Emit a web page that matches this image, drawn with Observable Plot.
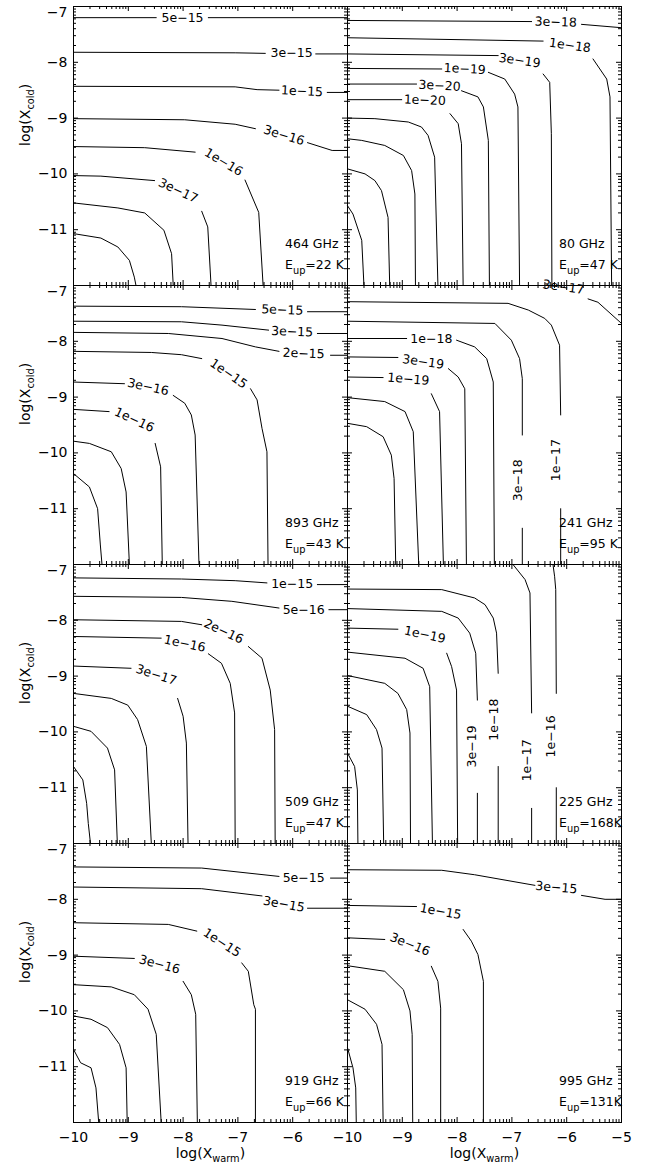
<!DOCTYPE html>
<html><head><meta charset="utf-8">
<script src="https://cdn.jsdelivr.net/npm/d3@7"></script>
<script src="https://cdn.jsdelivr.net/npm/@observablehq/plot@0.6"></script>
<style>body{margin:0;background:#fff}</style>
</head><body><div id="chart"></div>
<script>
const B = null; // break in a contour line (gap for its label)

// panel order: row-major, left column first
const freqs = ["464 GHz","80 GHz","893 GHz","241 GHz","509 GHz","225 GHz","919 GHz","995 GHz"];
const eups  = ["E_{up}=22 K","E_{up}=47 K","E_{up}=43 K","E_{up}=95 K","E_{up}=47 K","E_{up}=168K","E_{up}=66 K","E_{up}=131K"];
const panelCol = [0,1,0,1,0,1,0,1];
const panelRow = [0,0,1,1,2,2,3,3];

// contour lines, [log Xwarm, log Xcold]
const lines464 = [
  [[-10,-7.20],[-8.49,-7.20],B,[-7.54,-7.20],[-5,-7.20]],
  [[-10,-7.82],[-7.05,-7.83],[-6.50,-7.84],B,[-5.58,-7.85],[-5,-7.85]],
  [[-10,-8.43],[-7.05,-8.44],[-6.65,-8.49],[-6.25,-8.50],B,[-5.37,-8.54],[-5,-8.54]],
  [[-10,-9.01],[-7.97,-9.03],[-7.05,-9.11],[-6.68,-9.19],B,[-5.73,-9.44],[-5.28,-9.58],[-5,-9.58]],
  [[-10,-9.51],[-8.70,-9.53],[-7.78,-9.61],B,[-6.87,-10.11],[-6.62,-10.69],[-6.54,-12]],
  [[-10,-10.03],[-9.50,-10.04],[-8.52,-10.12],B,[-7.66,-10.67],[-7.55,-10.95],[-7.49,-12]],
  [[-10,-10.52],[-9.19,-10.61],[-8.70,-10.70],[-8.35,-11.01],[-8.21,-11.43],[-8.18,-12]],
  [[-10,-11.07],[-9.50,-11.15],[-9.19,-11.31],[-8.98,-11.55],[-8.89,-11.85],[-8.86,-12]]
];
const lines80 = [
  [[-10,-7.25],[-6.64,-7.27],B,[-5.73,-7.32],[-5,-7.38]],
  [[-10,-7.56],[-6.43,-7.62],B,[-5.52,-7.94],[-5.27,-8.30],[-5.21,-8.62],[-5.18,-12]],
  [[-10,-7.85],[-7.25,-7.88],B,[-6.43,-8.21],[-6.31,-8.36],[-6.28,-9.28],[-6.27,-12]],
  [[-10,-8.11],[-8.28,-8.12],B,[-7.43,-8.18],[-7.13,-8.30],[-6.95,-8.57],[-6.89,-8.80],[-6.86,-12]],
  [[-10,-8.39],[-8.74,-8.39],B,[-7.92,-8.51],[-7.62,-8.62],[-7.52,-8.80],[-7.43,-9.40],[-7.41,-12]],
  [[-10,-8.67],[-9.01,-8.67],B,[-8.13,-8.92],[-7.98,-9.10],[-7.92,-9.46],[-7.89,-12]],
  [[-10,-9.00],[-9.50,-9.01],[-8.89,-9.07],[-8.65,-9.16],[-8.53,-9.31],[-8.41,-9.70],[-8.35,-12]],
  [[-10,-9.37],[-9.74,-9.40],[-9.32,-9.49],[-8.98,-9.67],[-8.83,-9.94],[-8.77,-10.36],[-8.76,-12]],
  [[-10,-9.91],[-9.68,-10.00],[-9.50,-10.12],[-9.38,-10.30],[-9.26,-10.78],[-9.23,-12]],
  [[-10,-10.57],[-9.90,-10.72],[-9.74,-11.19],[-9.70,-12]]
];
const lines893 = [
  [[-10,-7.37],[-8.03,-7.38],[-6.68,-7.43],B,[-5.73,-7.47],[-5,-7.47]],
  [[-10,-7.64],[-8.03,-7.65],[-7.29,-7.71],[-6.44,-7.80],B,[-5.55,-7.86],[-5,-7.86]],
  [[-10,-7.84],[-8.27,-7.86],[-7.29,-7.95],[-6.68,-8.10],[-6.25,-8.18],B,[-5.31,-8.25],[-5,-8.25]],
  [[-10,-8.18],[-8.58,-8.20],[-8.03,-8.24],[-7.66,-8.31],B,[-6.77,-8.85],[-6.65,-9.05],[-6.56,-9.56],[-6.47,-9.98],[-6.45,-12]],
  [[-10,-8.73],[-9.07,-8.76],B,[-8.18,-8.97],[-7.97,-9.11],[-7.85,-9.32],[-7.78,-9.68],[-7.71,-12]],
  [[-10,-9.22],[-9.35,-9.26],B,[-8.51,-9.83],[-8.41,-10.25],[-8.38,-12]],
  [[-10,-9.79],[-9.71,-9.83],[-9.31,-9.98],[-9.13,-10.28],[-9.04,-10.70],[-8.98,-12]],
  [[-10,-10.37],[-9.71,-10.61],[-9.56,-11.00],[-9.51,-11.65],[-9.48,-12]]
];
const lines241 = [
  [[-6.72,-7.00],[-6.46,-7.00],B,[-5.61,-7.24],[-5.43,-7.30],[-5,-7.68]],
  [[-10,-7.29],[-7.07,-7.32],[-6.70,-7.44],[-6.40,-7.59],[-6.28,-7.71],[-6.13,-8.07],[-6.11,-9.32],B,[-6.11,-11.00],[-6.11,-12]],
  [[-10,-7.64],[-7.31,-7.68],[-7.01,-7.98],[-6.86,-8.31],[-6.81,-8.67],[-6.81,-9.68],B,[-6.81,-11.35],[-6.81,-12]],
  [[-10,-7.95],[-8.92,-7.95],B,[-8.01,-7.98],[-7.68,-8.10],[-7.46,-8.31],[-7.34,-8.73],[-7.32,-12]],
  [[-10,-8.28],[-9.08,-8.29],B,[-8.16,-8.49],[-7.98,-8.64],[-7.86,-8.85],[-7.83,-12]],
  [[-10,-8.64],[-9.35,-8.65],B,[-8.47,-8.94],[-8.32,-9.26],[-8.25,-12]],
  [[-10,-9.01],[-9.32,-9.08],[-8.95,-9.26],[-8.80,-9.62],[-8.70,-12]],
  [[-10,-9.47],[-9.65,-9.53],[-9.35,-9.71],[-9.20,-10.04],[-9.15,-10.46],[-9.12,-12]]
];
const lines509 = [
  [[-10,-7.24],[-8.03,-7.26],[-7.05,-7.29],[-6.47,-7.33],B,[-5.55,-7.36],[-5,-7.36]],
  [[-10,-7.57],[-8.03,-7.59],[-7.11,-7.66],[-6.25,-7.78],B,[-5.34,-7.81],[-5,-7.81]],
  [[-10,-7.99],[-8.03,-8.02],[-7.66,-8.08],B,[-6.81,-8.47],[-6.56,-8.68],[-6.41,-9.25],[-6.33,-9.96],[-6.32,-12]],
  [[-10,-8.29],[-8.40,-8.32],B,[-7.54,-8.60],[-7.30,-8.77],[-7.14,-9.13],[-7.06,-9.66],[-7.05,-12]],
  [[-10,-8.82],[-8.95,-8.86],B,[-8.10,-9.40],[-8.00,-9.72],[-7.94,-10.20],[-7.91,-12]],
  [[-10,-9.31],[-9.31,-9.40],[-9.01,-9.52],[-8.83,-9.78],[-8.67,-10.26],[-8.58,-12]],
  [[-10,-9.90],[-9.68,-9.99],[-9.38,-10.29],[-9.25,-10.68],[-9.20,-12]],
  [[-10,-10.62],[-9.83,-10.86],[-9.76,-11.28],[-9.73,-11.64],[-9.69,-12]]
];
const lines225 = [
  [[-6.25,-7.00],[-6.22,-7.22],[-6.20,-7.45],[-6.19,-9.31],B,[-6.19,-11.00],[-6.19,-12]],
  [[-6.98,-7.00],[-6.76,-7.27],[-6.67,-7.51],[-6.64,-9.66],B,[-6.64,-11.37],[-6.64,-12]],
  [[-10,-7.44],[-8.28,-7.45],[-7.68,-7.60],[-7.49,-7.72],[-7.34,-7.96],[-7.28,-8.23],[-7.25,-8.95],B,[-7.25,-10.62],[-7.25,-12]],
  [[-10,-7.79],[-8.28,-7.84],[-7.98,-7.96],[-7.77,-8.23],[-7.66,-8.59],[-7.63,-9.43],B,[-7.63,-11.10],[-7.63,-12]],
  [[-10,-8.14],[-9.08,-8.16],B,[-8.19,-8.59],[-8.10,-8.83],[-8.01,-9.25],[-7.99,-12]],
  [[-10,-8.57],[-8.95,-8.68],[-8.62,-8.86],[-8.50,-9.19],[-8.45,-12]],
  [[-10,-8.99],[-9.32,-9.13],[-9.08,-9.31],[-8.92,-9.60],[-8.86,-10.02],[-8.85,-12]],
  [[-10,-9.54],[-9.65,-9.69],[-9.47,-9.96],[-9.37,-10.29],[-9.34,-12]],
  [[-10,-10.38],[-9.87,-10.62],[-9.82,-11.04],[-9.81,-12]]
];
const lines919 = [
  [[-10,-7.42],[-7.66,-7.44],[-6.25,-7.59],B,[-5.31,-7.62],[-5,-7.62]],
  [[-10,-7.78],[-7.66,-7.81],[-6.56,-7.94],B,[-5.73,-8.16],[-5,-8.16]],
  [[-10,-8.42],[-8.27,-8.45],[-7.75,-8.57],B,[-6.93,-9.14],[-6.81,-9.29],[-6.71,-9.89],[-6.68,-9.97],[-6.68,-12]],
  [[-10,-9.02],[-8.89,-9.06],B,[-8.00,-9.47],[-7.85,-9.71],[-7.77,-10.06],[-7.74,-12]],
  [[-10,-9.53],[-9.31,-9.57],[-8.89,-9.71],[-8.64,-9.97],[-8.49,-10.42],[-8.40,-12]],
  [[-10,-10.09],[-9.68,-10.15],[-9.38,-10.30],[-9.16,-10.60],[-9.04,-11.02],[-9.02,-12]],
  [[-10,-10.69],[-9.87,-10.93],[-9.68,-11.02],[-9.59,-11.38],[-9.54,-12]]
];
const lines995 = [
  [[-10,-7.47],[-8.28,-7.48],[-7.68,-7.56],[-6.58,-7.75],B,[-5.73,-7.93],[-5.30,-8.00],[-5,-8.00]],
  [[-10,-8.11],[-8.74,-8.13],B,[-7.89,-8.54],[-7.74,-8.75],[-7.62,-8.99],[-7.52,-9.47],[-7.52,-12]],
  [[-10,-8.69],[-9.32,-8.72],B,[-8.47,-9.20],[-8.35,-9.47],[-8.30,-9.95],[-8.30,-12]],
  [[-10,-9.19],[-9.32,-9.29],[-8.98,-9.62],[-8.86,-10.00],[-8.82,-10.42],[-8.81,-12]],
  [[-10,-9.80],[-9.68,-9.97],[-9.47,-10.24],[-9.37,-10.60],[-9.35,-12]],
  [[-10,-10.66],[-9.90,-11.02],[-9.85,-11.38],[-9.84,-12]]
];

// contour labels: [text, log Xwarm, log Xcold, rotation in degrees]
const labels464 = [["5e-15",-8.01,-7.20,0],["3e-15",-6.02,-7.84,0],["1e-15",-5.83,-8.52,3],["3e-16",-6.16,-9.31,17],["1e-16",-7.26,-9.79,31],["3e-17",-8.09,-10.30,25]];
const labels80  = [["3e-18",-6.20,-7.28,2],["1e-18",-5.94,-7.70,8],["3e-19",-6.86,-7.97,8],["1e-19",-7.86,-8.12,3],["3e-20",-8.32,-8.42,3],["1e-20",-8.59,-8.68,2]];
const labels893 = [["5e-15",-6.19,-7.44,2],["3e-15",-6.01,-7.83,2],["2e-15",-5.80,-8.22,2],["1e-15",-7.17,-8.58,35],["3e-16",-8.64,-8.82,12],["1e-16",-8.89,-9.41,25]];
const labels241 = [["3e-17",-6.06,-7.03,8],["1e-17",-6.20,-10.13,-90],["3e-18",-6.89,-10.49,-90],["1e-18",-8.47,-7.95,0],["3e-19",-8.62,-8.37,8],["1e-19",-8.89,-8.68,5]];
const labels509 = [["1e-15",-6.01,-7.35,0],["5e-16",-5.80,-7.81,0],["2e-16",-7.26,-8.20,25],["1e-16",-7.97,-8.42,12],["3e-17",-8.49,-8.98,18]];
const labels225 = [["1e-16",-6.28,-10.08,-90],["1e-17",-6.73,-10.51,-90],["1e-18",-7.33,-9.78,-90],["3e-19",-7.73,-10.26,-90],["1e-19",-8.59,-8.26,12]];
const labels919 = [["5e-15",-5.80,-7.62,0],["3e-15",-6.16,-8.09,10],["1e-15",-7.29,-8.78,33],["3e-16",-8.43,-9.17,15]];
const labels995 = [["3e-15",-6.19,-7.79,5],["1e-15",-8.30,-8.22,10],["3e-16",-8.86,-8.81,22]];

// axes
const xDomain = [-10, -5];
const yDomain = [-12, -7];
const xMajor = [-10,-9,-8,-7,-6,-5];
const yMajor = [-12,-11,-10,-9,-8,-7];
const xTickLabels = [-10,-9,-8,-7,-6];
const xTickLabelsRightOnly = [-5];
const yTickLabels = [-8,-9,-10,-11];
const yTickLabelsTop = [-7];
const annotX = -6.14, annotYFreq = -11.25, annotYEup = -11.64;

const lineSets = [lines464, lines80, lines893, lines241, lines509, lines225, lines919, lines995];
const labelSets = [labels464, labels80, labels893, labels241, labels509, labels225, labels919, labels995];

const fmt = d => (d < 0 ? "\u2212" : "") + Math.abs(d);

const lineRows = [];
lineSets.forEach((set, p) => set.forEach((pts, i) => pts.forEach(pt => lineRows.push({
  col: panelCol[p], row: panelRow[p], id: p + "-" + i,
  x: pt ? pt[0] : NaN, y: pt ? pt[1] : NaN
}))));
const labelRows = [];
labelSets.forEach((set, p) => set.forEach(([t, x, y, r]) => labelRows.push({
  col: panelCol[p], row: panelRow[p], text: t.replace(/-/g, "\u2212"), x, y, rotate: r
})));
const annotRows = [];
freqs.forEach((f, p) => {
  annotRows.push({col: panelCol[p], row: panelRow[p], x: annotX, y: annotYFreq, text: f});
  annotRows.push({col: panelCol[p], row: panelRow[p], x: annotX, y: annotYEup, text: eups[p]});
});
const minorOf = majors => majors.slice(0, -1).flatMap(n => d3.range(2, 10).map(k => n + Math.log10(k)));
const xMinor = minorOf(xMajor);
const yMinor = minorOf(yMajor);

const W = 653, H = 1169, mL = 72.7, mR = 32.3, mT = 6, mB = 47;
const PW = (W - mL - mR) / 2, PH = (H - mT - mB) / 4;
const MAJ = 5, MIN = 3;
const font = "DejaVu Sans";

const chart = Plot.plot({
  width: W, height: H,
  marginLeft: mL, marginRight: mR, marginTop: mT, marginBottom: mB,
  style: {fontFamily: font, fontSize: "14px", background: "#fff", color: "#000"},
  x: {domain: xDomain},
  y: {domain: yDomain},
  fx: {domain: [0, 1], padding: 0, axis: null},
  fy: {domain: [0, 1, 2, 3], padding: 0, axis: null},
  marks: [
    Plot.line(lineRows, {fx: "col", fy: "row", x: "x", y: "y", z: "id", stroke: "#000", strokeWidth: 1}),
    Plot.text(labelRows, {fx: "col", fy: "row", x: "x", y: "y", text: "text", rotate: "rotate", fontSize: 12.5}),
    Plot.text(annotRows, {fx: "col", fy: "row", x: "x", y: "y", text: "text", textAnchor: "start", fontSize: 12.5}),
    // inward ticks on all four sides of every panel
    Plot.ruleX(xMajor, {x: d => d, insetTop: PH - MAJ}),
    Plot.ruleX(xMajor, {x: d => d, insetBottom: PH - MAJ}),
    Plot.ruleX(xMinor, {x: d => d, insetTop: PH - MIN}),
    Plot.ruleX(xMinor, {x: d => d, insetBottom: PH - MIN}),
    Plot.ruleY(yMajor, {y: d => d, insetRight: PW - MAJ}),
    Plot.ruleY(yMajor, {y: d => d, insetLeft: PW - MAJ}),
    Plot.ruleY(yMinor, {y: d => d, insetRight: PW - MIN}),
    Plot.ruleY(yMinor, {y: d => d, insetLeft: PW - MIN}),
    Plot.frame({stroke: "#000", strokeWidth: 1}),
    Plot.axisY({anchor: "left", facetAnchor: "left", ticks: yTickLabels, tickFormat: fmt, tickSize: 0, tickPadding: 6, label: null}),
    Plot.axisY({anchor: "left", facetAnchor: "left", ticks: yTickLabelsTop, tickFormat: fmt, tickSize: 0, tickPadding: 6, dy: 6, label: null}),
    Plot.axisX({anchor: "bottom", facetAnchor: "bottom", ticks: xTickLabels, tickFormat: fmt, tickSize: 0, tickPadding: 10, label: null}),
    Plot.text(xTickLabelsRightOnly.map(v => ({col: 1, row: 3, v})), {fx: "col", fy: "row", x: "v", frameAnchor: "bottom", lineAnchor: "top", dy: 10, text: d => fmt(d.v)}),
    Plot.text([0, 1, 2, 3].map(r => ({col: 0, row: r})), {fx: "col", fy: "row", frameAnchor: "left", dx: -48, rotate: -90, text: () => "log(X_{cold})"}),
    Plot.text([0, 1].map(c => ({col: c, row: 3})), {fx: "col", fy: "row", frameAnchor: "bottom", dy: 35, text: () => "log(X_{warm})"})
  ]
});

// subscripts
chart.querySelectorAll("text").forEach(t => {
  const s = t.textContent;
  if (!s.includes("_{")) return;
  const fs = parseFloat(getComputedStyle(t).fontSize) || 14;
  const shift = fs * 0.3;
  t.textContent = "";
  const re = /_\{([^}]*)\}/g;
  let last = 0, m, pending = 0;
  const add = (txt, sub) => {
    const ts = document.createElementNS("http://www.w3.org/2000/svg", "tspan");
    ts.textContent = txt;
    if (sub) { ts.setAttribute("font-size", (fs * 0.7) + "px"); ts.setAttribute("dy", shift); pending = shift; }
    else if (pending) { ts.setAttribute("dy", -pending); pending = 0; }
    t.appendChild(ts);
  };
  while ((m = re.exec(s))) {
    if (m.index > last) add(s.slice(last, m.index), false);
    add(m[1], true);
    last = re.lastIndex;
  }
  if (last < s.length) add(s.slice(last), false);
});

document.getElementById("chart").appendChild(chart);
</script>
</body></html>
